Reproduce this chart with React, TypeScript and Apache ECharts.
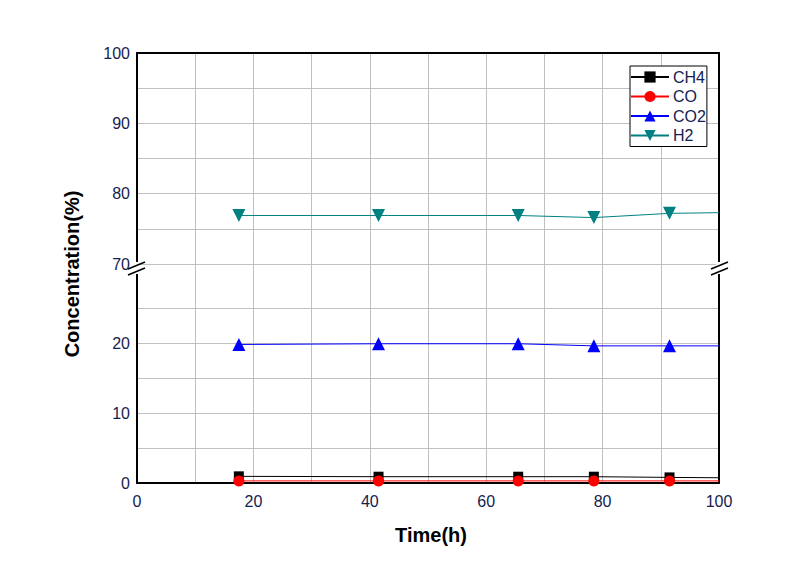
import React, { useEffect, useRef } from "react";
import * as echarts from "echarts";

const timeH = [17.5, 41.5, 65.5, 78.5, 91.5, 100];
const ch4 = [0.95, 0.9, 0.9, 0.9, 0.8, 0.75];
const co = [0.3, 0.3, 0.3, 0.3, 0.3, 0.3];
const co2 = [19.8, 19.9, 19.9, 19.6, 19.6, 19.6];
const h2 = [76.9, 76.9, 76.9, 76.6, 77.2, 77.3];

const upperTicks = [70, 80, 90, 100];
const lowerTicks = [0, 10, 20];
const xTicks = [0, 20, 40, 60, 80, 100];

const FONT = "Liberation Sans, Arial, sans-serif";
const LABEL_COLOR = "#14224f";
const GRID_COLOR = "#c0c0c0";

export default function App() {
  const ref = useRef<HTMLDivElement>(null);
  useEffect(() => {
    if (!ref.current) return;
    const chart = echarts.init(ref.current, undefined, { renderer: "svg" });
    const pts = (vals: number[]) => vals.map((v, i) => [timeH[i], v]);
    const symSize = (s: number) => (_v: any, p: any) => (p.dataIndex === timeH.length - 1 ? 0 : s);
    const axisLine = { show: true, lineStyle: { color: "#000", width: 2 } };
    const lowerColors = [GRID_COLOR, GRID_COLOR, GRID_COLOR, GRID_COLOR, GRID_COLOR, GRID_COLOR, "rgba(0,0,0,0)", GRID_COLOR];
    const labelStyle = { color: LABEL_COLOR, fontSize: 16, fontFamily: FONT };
    const option: any = {
      animation: false,
      backgroundColor: "#fff",
      grid: [
        { left: 137, right: 90, top: 53, height: 211 },
        { left: 137, right: 90, top: 264, height: 219 },
      ],
      xAxis: [
        {
          gridIndex: 0, type: "value", min: 0, max: 100, interval: 10, position: "top",
          axisLine, axisTick: { show: false }, axisLabel: { show: false },
          splitLine: { show: true, lineStyle: { color: GRID_COLOR, width: 1 } },
        },
        {
          gridIndex: 1, type: "value", min: 0, max: 100, interval: 10, position: "bottom",
          axisLine, axisTick: { show: false },
          axisLabel: { ...labelStyle, margin: 10, formatter: (v: number) => (xTicks.includes(v) ? String(v) : "") },
          splitLine: { show: true, lineStyle: { color: GRID_COLOR, width: 1 } },
        },
      ],
      yAxis: [
        {
          gridIndex: 0, type: "value", min: 70, max: 100, interval: 5, position: "left",
          axisLine, axisTick: { show: false },
          axisLabel: { ...labelStyle, margin: 7, formatter: (v: number) => (upperTicks.includes(v) ? String(v) : "") },
          splitLine: { show: true, lineStyle: { color: GRID_COLOR, width: 1 } },
        },
        {
          gridIndex: 0, type: "value", min: 70, max: 100, interval: 5, position: "right",
          axisLine, axisTick: { show: false }, axisLabel: { show: false }, splitLine: { show: false },
        },
        {
          gridIndex: 1, type: "value", min: 0, max: 31.3, interval: 5, position: "left",
          axisLine, axisTick: { show: false },
          axisLabel: { ...labelStyle, margin: 7, formatter: (v: number) => (lowerTicks.includes(v) ? String(v) : "") },
          splitLine: { show: true, lineStyle: { color: lowerColors, width: 1 } },
        },
        {
          gridIndex: 1, type: "value", min: 0, max: 31.3, interval: 5, position: "right",
          axisLine, axisTick: { show: false }, axisLabel: { show: false }, splitLine: { show: false },
        },
      ],
      legend: {
        orient: "vertical",
        left: 630,
        top: 66,
        padding: [3, 1, 3, 0],
        itemWidth: 38,
        itemHeight: 14,
        itemGap: 3.5,
        borderColor: "#000",
        borderWidth: 1,
        backgroundColor: "#fff",
        textStyle: { color: LABEL_COLOR, fontSize: 16, fontFamily: FONT, padding: [0, 0, 0, -1] },
        data: ["CH4", "CO", "CO2", "H2"],
      },
      series: [
        {
          name: "CH4", type: "line", xAxisIndex: 1, yAxisIndex: 2, data: pts(ch4),
          symbol: "rect", symbolSize: symSize(10), itemStyle: { color: "#000" },
          lineStyle: { color: "#000", width: 1 },
        },
        {
          name: "CO", type: "line", xAxisIndex: 1, yAxisIndex: 2, data: pts(co),
          symbol: "circle", symbolSize: symSize(11), itemStyle: { color: "#ff0000" },
          lineStyle: { color: "#ff0000", width: 1 },
        },
        {
          name: "CO2", type: "line", xAxisIndex: 1, yAxisIndex: 2, data: pts(co2),
          symbol: "triangle", symbolSize: symSize(13), itemStyle: { color: "#0000ff" },
          lineStyle: { color: "#0000ff", width: 1 },
        },
        {
          name: "H2", type: "line", xAxisIndex: 0, yAxisIndex: 0, data: pts(h2),
          symbol: "triangle", symbolRotate: 180, symbolSize: symSize(13), itemStyle: { color: "#008080" },
          lineStyle: { color: "#008080", width: 1 },
        },
      ],
      graphic: [
        { type: "rect", shape: { x: 133, y: 262, width: 7, height: 12 }, style: { fill: "#fff" }, z: 100 },
        { type: "rect", shape: { x: 716, y: 262, width: 7, height: 12 }, style: { fill: "#fff" }, z: 100 },
        { type: "line", shape: { x1: 128, y1: 269, x2: 145, y2: 262 }, style: { stroke: "#000", lineWidth: 1.5 }, z: 101 },
        { type: "line", shape: { x1: 128, y1: 275, x2: 145, y2: 268 }, style: { stroke: "#000", lineWidth: 1.5 }, z: 101 },
        { type: "line", shape: { x1: 711, y1: 269, x2: 728, y2: 262 }, style: { stroke: "#000", lineWidth: 1.5 }, z: 101 },
        { type: "line", shape: { x1: 711, y1: 275, x2: 728, y2: 268 }, style: { stroke: "#000", lineWidth: 1.5 }, z: 101 },
        {
          type: "text", x: 72, y: 274, rotation: Math.PI / 2,
          style: { text: "Concentration(%)", fill: "#000", font: `bold 20px ${FONT}`, align: "center", verticalAlign: "middle" },
        },
        {
          type: "text", x: 431, y: 535,
          style: { text: "Time(h)", fill: "#000", font: `bold 20px ${FONT}`, align: "center", verticalAlign: "middle" },
        },
      ],
    };
    chart.setOption(option);
    return () => chart.dispose();
  }, []);
  return <div ref={ref} style={{ width: 809, height: 569, position: "absolute", left: 0, top: 0 }} />;
}
